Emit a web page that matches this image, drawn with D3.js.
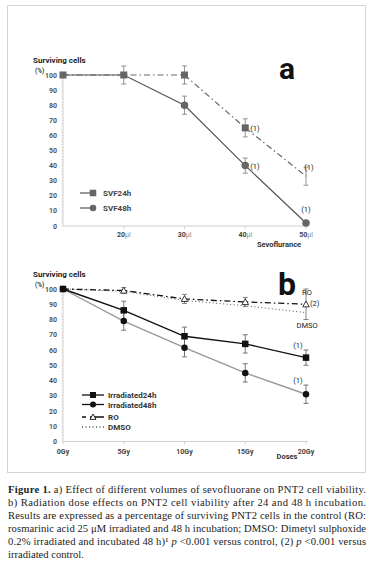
<!DOCTYPE html>
<html>
<head>
<meta charset="utf-8">
<script src="https://cdn.jsdelivr.net/npm/d3@7"></script>
<style>
  body { margin: 0; background: #fff; }
  svg { display: block; }
</style>
</head>
<body>
<div id="chart"></div>
<script>
// panel a: sevofluorane volumes
const volumes = [10, 20, 30, 40, 50];
const volumeTicks = [20, 30, 40, 50];
const svf24 = [100, 100, 100, 65, 33];
const svf24Err = [0, 6, 6, 6, 6];
const svf48 = [100, 100, 80, 40, 2];
const svf48Err = [0, 0, 6, 5, 0];

// panel b: radiation doses
const doses = ["0Gy", "5Gy", "10Gy", "15Gy", "20Gy"];
const irr24 = [100, 86, 69, 64, 55];
const irr24Err = [0, 6, 6, 6, 5];
const irr48 = [100, 79, 61.5, 45, 31];
const irr48Err = [0, 6, 6, 6, 6];
const ro = [100, 99, 93.5, 91.5, 90];
const roErr = [0, 2, 3, 3, 10];
const dmso = [100, 98.5, 92.5, 89, 84.5];

const yTicks = [0, 10, 20, 30, 40, 50, 60, 70, 80, 90, 100];

const captionLines = [
  [["Figure 1.", "b"], [" a) Effect of different volumes of sevofluorane on PNT2 cell viability.", ""]],
  [["b) Radiation dose effects on PNT2 cell viability after 24 and 48 h incubation.", ""]],
  [["Results are expressed as a percentage of surviving PNT2 cells in the control (RO:", ""]],
  [["rosmarinic acid 25 μM irradiated and 48 h incubation; DMSO: Dimetyl sulphoxide", ""]],
  [["0.2% irradiated and incubated 48 h)¹ ", ""], ["p", "i"], [" <0.001 versus control, (2) ", ""], ["p", "i"], [" <0.001 versus", ""]],
  [["irradiated control.", ""]]
];

const W = 376, H = 567;
const svg = d3.select("#chart").append("svg")
  .attr("width", W).attr("height", H)
  .style("font-family", "Roboto, sans-serif");

// frame
svg.append("rect")
  .attr("x", 7.5).attr("y", 5.5).attr("width", 358).attr("height", 467)
  .attr("fill", "none").attr("stroke", "#d4d4d4");

const axisCol = "#d0d0d0";

function yAxis(y, x0) {
  const g = svg.append("g");
  g.append("line").attr("x1", x0).attr("x2", x0)
    .attr("y1", y(100) - 2).attr("y2", y(0))
    .attr("stroke", axisCol);
  g.selectAll(".minor").data(d3.range(0, 101, 2)).join("line")
    .attr("x1", x0 - 2).attr("x2", x0)
    .attr("y1", d => y(d)).attr("y2", d => y(d))
    .attr("stroke", axisCol).attr("stroke-width", 0.6);
  g.selectAll("text").data(yTicks).join("text")
    .attr("x", x0 - 6).attr("y", d => y(d) + 2.5)
    .attr("text-anchor", "end")
    .attr("font-size", 7).attr("font-weight", "bold").attr("fill", "#555")
    .text(d => d);
}

function title(x, yTop) {
  svg.append("text").attr("x", x).attr("y", yTop)
    .attr("font-size", 8).attr("font-weight", "bold").attr("fill", "#222")
    .text("Surviving cells");
  svg.append("text").attr("x", x + 2).attr("y", yTop + 10)
    .attr("font-size", 6.5).attr("font-weight", "bold").attr("fill", "#444")
    .text("(%)");
}

function errorBars(x, y, vals, errs, keys, color) {
  const g = svg.append("g").attr("stroke", color).attr("stroke-width", 0.9);
  vals.forEach((v, i) => {
    const e = errs[i];
    if (!e) return;
    const cx = x(keys[i]);
    g.append("line").attr("x1", cx).attr("x2", cx).attr("y1", y(v + e)).attr("y2", y(v - e));
    g.append("line").attr("x1", cx - 2.5).attr("x2", cx + 2.5).attr("y1", y(v + e)).attr("y2", y(v + e));
    g.append("line").attr("x1", cx - 2.5).attr("x2", cx + 2.5).attr("y1", y(v - e)).attr("y2", y(v - e));
  });
}

function seriesLine(x, y, keys, vals, color, width, dash) {
  svg.append("path")
    .datum(vals)
    .attr("fill", "none").attr("stroke", color).attr("stroke-width", width)
    .attr("stroke-dasharray", dash)
    .attr("d", d3.line().x((d, i) => x(keys[i])).y(d => y(d)));
}

function marker(type, cx, cy, color, size) {
  if (type === "square") {
    svg.append("rect").attr("x", cx - size / 2).attr("y", cy - size / 2)
      .attr("width", size).attr("height", size).attr("fill", color);
  } else if (type === "circle") {
    svg.append("circle").attr("cx", cx).attr("cy", cy).attr("r", size / 2).attr("fill", color);
  } else {
    const s = size / 2;
    svg.append("path")
      .attr("d", `M${cx},${cy - s}L${cx + s},${cy + s * 0.8}L${cx - s},${cy + s * 0.8}Z`)
      .attr("fill", "#fff").attr("stroke", color).attr("stroke-width", 0.9);
  }
}

function note(x, y, txt, anchor) {
  svg.append("text").attr("x", x).attr("y", y)
    .attr("font-size", 7.5).attr("fill", "#222")
    .attr("text-anchor", anchor || "start").text(txt);
}

// ---------- panel a ----------
const xA = d3.scaleLinear().domain([10, 50]).range([63, 306]);
const yA = d3.scaleLinear().domain([0, 100]).range([226, 75]);

title(33, 63);
yAxis(yA, 63);

svg.append("line").attr("x1", 63).attr("x2", 308)
  .attr("y1", yA(0)).attr("y2", yA(0)).attr("stroke", axisCol);
volumeTicks.forEach(t => {
  svg.append("line").attr("x1", xA(t)).attr("x2", xA(t))
    .attr("y1", yA(0)).attr("y2", yA(0) + 3).attr("stroke", axisCol);
  const tx = svg.append("text").attr("x", xA(t)).attr("y", yA(0) + 11)
    .attr("text-anchor", "middle").attr("font-size", 7).attr("font-weight", "bold").attr("fill", "#444");
  tx.append("tspan").text(t);
  tx.append("tspan").attr("font-weight", "normal").attr("fill", "#888").text("µl");
});
svg.append("text").attr("x", 279).attr("y", 247)
  .attr("text-anchor", "middle").attr("font-size", 7.5).attr("font-weight", "bold").attr("fill", "#333")
  .text("Sevoflurance");

errorBars(xA, yA, svf24, svf24Err, volumes, "#888");
errorBars(xA, yA, svf48, svf48Err, volumes, "#888");
seriesLine(xA, yA, volumes, svf24, "#666", 1.2, "6,3,1.5,3");
seriesLine(xA, yA, volumes, svf48, "#555", 1.2, null);
svf24.forEach((v, i) => { if (i < 4) marker("square", xA(volumes[i]), yA(v), "#666", 7); });
svf48.forEach((v, i) => { if (i > 1) marker("circle", xA(volumes[i]), yA(v), "#666", 7.5); });

note(xA(40) + 5, yA(svf24[3]) + 3, "(1)");
note(xA(40) + 5, yA(svf48[3]) + 3, "(1)");
note(xA(50) + 3, yA(svf24[4]) - 6, "(1)", "middle");
note(xA(50), yA(svf48[4]) - 11, "(1)", "middle");

svg.append("text").attr("x", 287).attr("y", 79)
  .attr("text-anchor", "middle").attr("font-size", 30).attr("font-weight", "bold").attr("fill", "#111")
  .text("a");

// legend a
[["SVF24h", "square", 193], ["SVF48h", "circle", 208]].forEach(([lab, m, ly]) => {
  svg.append("line").attr("x1", 80).attr("x2", 92).attr("y1", ly).attr("y2", ly)
    .attr("stroke", "#555").attr("stroke-width", 1.2);
  marker(m, 93, ly, "#666", 6.5);
  svg.append("text").attr("x", 103).attr("y", ly + 3)
    .attr("font-size", 8).attr("font-weight", "bold").attr("fill", "#444").text(lab);
});

// ---------- panel b ----------
const xB = d3.scalePoint().domain(doses).range([63, 306]);
const yB = d3.scaleLinear().domain([0, 100]).range([441.5, 289]);

title(33, 277);
yAxis(yB, 63);

svg.append("line").attr("x1", 63).attr("x2", 308)
  .attr("y1", yB(0)).attr("y2", yB(0)).attr("stroke", axisCol);
doses.forEach(t => {
  svg.append("line").attr("x1", xB(t)).attr("x2", xB(t))
    .attr("y1", yB(0)).attr("y2", yB(0) + 3).attr("stroke", axisCol);
  svg.append("text").attr("x", xB(t)).attr("y", yB(0) + 12)
    .attr("text-anchor", "middle").attr("font-size", 7).attr("font-weight", "bold").attr("fill", "#444")
    .text(t);
});
svg.append("text").attr("x", 287).attr("y", 459)
  .attr("text-anchor", "middle").attr("font-size", 7.5).attr("font-weight", "bold").attr("fill", "#333")
  .text("Doses");

errorBars(xB, yB, irr24, irr24Err, doses, "#666");
errorBars(xB, yB, irr48, irr48Err, doses, "#666");
errorBars(xB, yB, ro, roErr, doses, "#777");
seriesLine(xB, yB, doses, dmso, "#555", 1, "1,2.5");
seriesLine(xB, yB, doses, ro, "#111", 1.3, "6,3,1.5,3");
seriesLine(xB, yB, doses, irr48, "#999", 1.4, null);
seriesLine(xB, yB, doses, irr24, "#111", 1.4, null);
irr48.forEach((v, i) => marker("circle", xB(doses[i]), yB(v), "#111", 6.5));
irr24.forEach((v, i) => marker("square", xB(doses[i]), yB(v), "#111", 6.5));
ro.forEach((v, i) => { if (i > 0) marker("triangle", xB(doses[i]), yB(v), "#222", 6.5); });

svg.append("text").attr("x", 287).attr("y", 295)
  .attr("text-anchor", "middle").attr("font-size", 32).attr("font-weight", "bold").attr("fill", "#111")
  .text("b");
note(xB("20Gy") + 1, yB(ro[4]) - 9, "RO", "middle");
note(xB("20Gy") + 4, yB(ro[4]) + 2, "(2)");
note(xB("20Gy") + 1, yB(dmso[4]) + 15, "DMSO", "middle");
note(xB("20Gy") - 8, yB(irr24[4]) - 10, "(1)", "middle");
note(xB("20Gy") - 8, yB(irr48[4]) - 11, "(1)", "middle");

// legend b
const legB = [
  ["Irradiated24h", "square", 395, "#111", null],
  ["Irradiated48h", "circle", 404.5, "#111", null],
  ["RO", "triangle", 417, "#111", "4,4,16"],
  ["DMSO", null, 427, "#555", "1,2.5"]
];
legB.forEach(([lab, m, ly, col, dash]) => {
  svg.append("line").attr("x1", 82).attr("x2", 104).attr("y1", ly).attr("y2", ly)
    .attr("stroke", col).attr("stroke-width", 1.3).attr("stroke-dasharray", dash);
  if (m) marker(m, 93, ly, col, 6);
  svg.append("text").attr("x", 108).attr("y", ly + 3)
    .attr("font-size", 8).attr("font-weight", "bold").attr("fill", "#333").text(lab);
});

// ---------- caption ----------
const cap = svg.append("g").attr("font-family", "'Liberation Serif', serif")
  .attr("font-size", 10.6).attr("fill", "#222");
captionLines.forEach((parts, i) => {
  const t = cap.append("text").attr("x", 8).attr("y", 493 + i * 13);
  if (i < captionLines.length - 1) t.attr("textLength", 358).attr("lengthAdjust", "spacing");
  parts.forEach(([s, style]) => {
    const sp = t.append("tspan").text(s);
    if (style === "b") sp.attr("font-weight", "bold");
    if (style === "i") sp.attr("font-style", "italic");
  });
});
</script>
</body>
</html>
